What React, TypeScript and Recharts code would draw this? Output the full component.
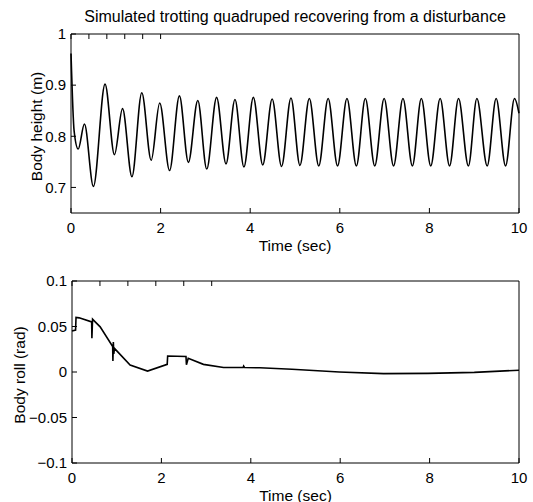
import React from "react";
import { Line, LineChart, XAxis, YAxis } from "recharts";

// time axis shared by both panels
const timeTicks = [0, 2, 4, 6, 8, 10];

// body height: peaks and troughs
const heightTime = [
  0, 0.07, 0.16, 0.3, 0.5, 0.76, 0.97, 1.15, 1.36, 1.58, 1.79, 1.98, 2.2,
  2.42, 2.62, 2.83, 3.03, 3.25, 3.46, 3.66, 3.86, 4.07, 4.28, 4.49, 4.7, 4.91,
  5.11, 5.32, 5.53, 5.74, 5.95, 6.16, 6.37, 6.57, 6.78, 6.99, 7.2, 7.41, 7.62,
  7.82, 8.03, 8.24, 8.45, 8.65, 8.87, 9.06, 9.29, 9.49, 9.7, 9.9, 10,
];
const heightValue = [
  0.962, 0.81, 0.775, 0.824, 0.702, 0.902, 0.764, 0.854, 0.721, 0.885, 0.753,
  0.865, 0.733, 0.879, 0.749, 0.87, 0.736, 0.876, 0.746, 0.872, 0.74, 0.876,
  0.744, 0.873, 0.741, 0.875, 0.743, 0.874, 0.742, 0.874, 0.742, 0.874, 0.742,
  0.874, 0.742, 0.874, 0.742, 0.874, 0.742, 0.874, 0.742, 0.874, 0.742, 0.874,
  0.742, 0.874, 0.742, 0.874, 0.742, 0.874, 0.845,
];
const heightTicks = [0.7, 0.8, 0.9, 1];
const heightLabels = ["0.7", "0.8", "0.9", "1"];

// body roll, with the small foot-strike spikes
const rollTime = [
  0, 0.08, 0.09, 0.16, 0.44, 0.445, 0.46, 0.48, 0.63, 0.91, 0.915, 0.925,
  0.935, 0.95, 1.3, 1.69, 2.13, 2.14, 2.55, 2.56, 2.6, 2.94, 3.39, 3.83, 3.84,
  3.86, 4.2, 4.92, 5.98, 6.97, 7.96, 9.0, 10,
];
const rollValue = [
  0.045, 0.046, 0.06, 0.0595, 0.055, 0.037, 0.058, 0.057, 0.0496, 0.028,
  0.012, 0.033, 0.02, 0.026, 0.0077, 0.001, 0.0084, 0.0175, 0.017, 0.008,
  0.015, 0.0084, 0.005, 0.005, 0.0065, 0.005, 0.0046, 0.003, 0, -0.0018,
  -0.0015, -0.0004, 0.002,
];
const rollTicks = [-0.1, -0.05, 0, 0.05, 0.1];
const rollLabels = ["\u22120.1", "\u22120.05", "0", "0.05", "0.1"];

const heightData = heightTime.map((t, i) => ({ t, v: heightValue[i] }));
const rollData = rollTime.map((t, i) => ({ t, v: rollValue[i] }));

const FONT = "'Liberation Sans', Arial, Helvetica, sans-serif";
const INK = "#000";
const tickStyle = { fill: INK, fontSize: 15, fontFamily: FONT };
const noLabel = () => <g />;

function xTitle(text: string) {
  return (p: any) => {
    const vb = p.viewBox;
    return (
      <text
        x={vb.x + vb.width / 2}
        y={vb.y + 32}
        textAnchor="middle"
        dominantBaseline="central"
        fill={INK}
        fontSize={15.5}
        fontFamily={FONT}
      >
        {text}
      </text>
    );
  };
}

function yTitle(text: string, cx: number) {
  return (p: any) => {
    const vb = p.viewBox;
    const cy = vb.y + vb.height / 2 + 3;
    return (
      <text
        x={cx}
        y={cy}
        transform={`rotate(-90 ${cx} ${cy})`}
        textAnchor="middle"
        dominantBaseline="central"
        fill={INK}
        fontSize={15.5}
        fontFamily={FONT}
      >
        {text}
      </text>
    );
  };
}

function chartTitle(text: string) {
  return (p: any) => {
    const vb = p.viewBox;
    return (
      <text
        x={vb.x + vb.width / 2}
        y={16}
        textAnchor="middle"
        dominantBaseline="central"
        fill={INK}
        fontSize={16}
        fontFamily={FONT}
      >
        {text}
      </text>
    );
  };
}

interface PanelProps {
  data: Array<{ t: number; v: number }>;
  offsetY: number;
  height: number;
  top: number;
  plotHeight: number;
  left: number;
  yDomain: [number, number];
  yTicks: number[];
  yLabels: string[];
  yName: string;
  yNameX: number;
  curve: "monotone" | "linear";
  title?: string;
}

function Panel({
  data,
  offsetY,
  height,
  top,
  plotHeight,
  left,
  yDomain,
  yTicks,
  yLabels,
  yName,
  yNameX,
  curve,
  title,
}: PanelProps) {
  const axisLine = { stroke: INK, strokeWidth: 1 };
  const tickLine = { stroke: INK, strokeWidth: 1 };
  return (
    <div style={{ position: "absolute", left: 0, top: offsetY }}>
      <LineChart
        width={533}
        height={height}
        data={data}
        margin={{ top: top - 1, right: 13, bottom: 0, left: 0 }}
      >
        <XAxis
          xAxisId="b"
          dataKey="t"
          type="number"
          domain={[0, 10]}
          ticks={timeTicks}
          height={height - top - plotHeight}
          tickSize={-5}
          tickMargin={14}
          tick={tickStyle}
          axisLine={axisLine}
          tickLine={tickLine}
          label={xTitle("Time (sec)")}
        />
        <XAxis
          xAxisId="top"
          orientation="top"
          type="number"
          domain={[0, 10]}
          ticks={timeTicks}
          height={1}
          tickSize={-5}
          tick={noLabel}
          axisLine={axisLine}
          tickLine={tickLine}
          label={title ? chartTitle(title) : undefined}
        />
        <YAxis
          yAxisId="l"
          type="number"
          domain={yDomain}
          ticks={yTicks}
          width={left}
          tickSize={-5}
          tickMargin={10}
          tick={tickStyle}
          tickFormatter={(v: number) =>
            yLabels[yTicks.indexOf(v)] ?? String(v)
          }
          axisLine={axisLine}
          tickLine={tickLine}
          label={yTitle(yName, yNameX)}
        />
        <YAxis
          yAxisId="r"
          orientation="right"
          type="number"
          domain={yDomain}
          ticks={yTicks}
          width={1}
          tickSize={-5}
          tick={noLabel}
          axisLine={axisLine}
          tickLine={tickLine}
        />
        <Line
          xAxisId="b"
          yAxisId="l"
          type={curve}
          dataKey="v"
          stroke={INK}
          strokeWidth={1.6}
          dot={false}
          isAnimationActive={false}
        />
      </LineChart>
    </div>
  );
}

export default function App() {
  return (
    <div
      style={{
        position: "absolute",
        left: 0,
        top: 0,
        width: 533,
        height: 502,
        background: "#fff",
        fontFamily: FONT,
      }}
    >
      <Panel
        data={heightData}
        offsetY={0}
        height={262}
        top={34}
        plotHeight={179}
        left={71}
        yDomain={[0.65, 1]}
        yTicks={heightTicks}
        yLabels={heightLabels}
        yName="Body height (m)"
        yNameX={36}
        curve="monotone"
        title="Simulated trotting quadruped recovering from a disturbance"
      />
      <Panel
        data={rollData}
        offsetY={250}
        height={252}
        top={31}
        plotHeight={182}
        left={72}
        yDomain={[-0.1, 0.1]}
        yTicks={rollTicks}
        yLabels={rollLabels}
        yName="Body roll (rad)"
        yNameX={19}
        curve="linear"
      />
    </div>
  );
}
